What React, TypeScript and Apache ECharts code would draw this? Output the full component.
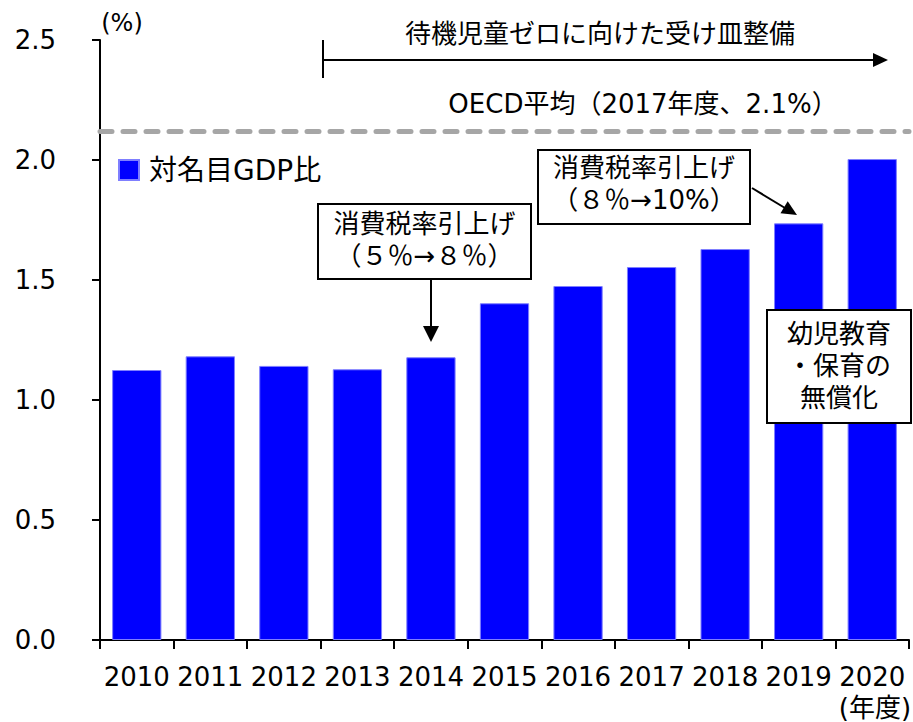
import React, { useEffect, useRef } from 'react';
import * as echarts from 'echarts';

const years = ['2010', '2011', '2012', '2013', '2014', '2015', '2016', '2017', '2018', '2019', '2020'];
const ratioToGDP = [1.125, 1.182, 1.142, 1.128, 1.178, 1.403, 1.475, 1.554, 1.629, 1.736, 2.004];
const oecdAverage = 2.115;
const seriesName = '対名目GDP比';
const yMin = 0;
const yMax = 2.5;
const yInterval = 0.5;

const NUM_FONT = 'DejaVu Sans, Noto Sans CJK JP, sans-serif';
const JP_FONT = 'DejaVu Sans, Noto Sans CJK JP, sans-serif';

export default function App() {
  const ref = useRef<HTMLDivElement>(null);

  useEffect(() => {
    document.body.style.margin = '0';
    if (!ref.current) return;
    const chart = echarts.init(ref.current, null, { renderer: 'svg' });

    const txt = (text: string, x: number, y: number, fontSize = 26, align = 'center', lineHeight = 32) => ({
      type: 'text',
      z: 110,
      style: {
        text,
        x,
        y,
        fontSize,
        fontFamily: JP_FONT,
        fill: '#000',
        align,
        verticalAlign: 'middle',
        lineHeight,
      },
    });

    const box = (x: number, y: number, w: number, h: number) => ({
      type: 'rect',
      z: 100,
      shape: { x, y, width: w, height: h },
      style: { fill: '#fff', stroke: '#000', lineWidth: 2 },
    });

    const lineEl = (x1: number, y1: number, x2: number, y2: number, w = 2) => ({
      type: 'line',
      z: 100,
      shape: { x1, y1, x2, y2 },
      style: { stroke: '#000', lineWidth: w },
    });

    const tri = (points: number[][]) => ({
      type: 'polygon',
      z: 100,
      shape: { points },
      style: { fill: '#000' },
    });

    chart.setOption({
      animation: false,
      grid: { left: 100, right: 4, top: 40, bottom: 82, containLabel: false },
      legend: {
        data: [seriesName],
        left: 118,
        top: 156,
        padding: 0,
        icon: 'rect',
        itemWidth: 20,
        itemHeight: 20,
        itemGap: 10,
        textStyle: { fontSize: 28, fontFamily: JP_FONT, color: '#000', padding: [0, 0, 0, 5] },
      },
      xAxis: {
        type: 'category',
        data: years,
        axisLine: { show: true, lineStyle: { color: '#000', width: 2 } },
        axisTick: { show: true, length: 9, lineStyle: { color: '#000', width: 2 } },
        axisLabel: { interval: 0, fontSize: 26, fontFamily: NUM_FONT, color: '#000', margin: 24 },
      },
      yAxis: {
        type: 'value',
        min: yMin,
        max: yMax,
        interval: yInterval,
        axisLine: { show: true, lineStyle: { color: '#000', width: 2 } },
        axisTick: { show: true, length: 8, lineStyle: { color: '#000', width: 2 } },
        splitLine: { show: false },
        axisLabel: {
          fontSize: 26,
          fontFamily: NUM_FONT,
          color: '#000',
          margin: 44,
          padding: [0, 0, 8, 0],
          formatter: (v: number) => v.toFixed(1),
        },
      },
      series: [
        {
          name: seriesName,
          type: 'bar',
          data: ratioToGDP,
          barCategoryGap: '33%',
          itemStyle: { color: '#0000FF', borderColor: '#7f7fff', borderWidth: 1 },
          markLine: {
            silent: true,
            symbol: ['none', 'none'],
            label: { show: false },
            lineStyle: { color: '#A6A6A6', width: 5, type: [12, 11], cap: 'round' },
            data: [{ yAxis: oecdAverage }],
          },
        },
      ],
      graphic: [
        // axis unit labels
        txt('(%)', 122, 23, 24),
        txt('(年度)', 875, 708, 26),
        // top arrow
        lineEl(323, 40, 323, 78),
        lineEl(323, 60, 875, 60),
        tri([[888, 60], [873, 53], [873, 67]]),
        txt('待機児童ゼロに向けた受け皿整備', 600, 34, 26),
        // OECD label
        txt('OECD平均（2017年度、2.1%）', 643, 104, 26),
        // box 1
        box(318, 204, 213, 75),
        txt('消費税率引上げ\n（５％→８％）', 424.5, 239.5, 26),
        lineEl(431, 279, 431, 328),
        tri([[431, 342], [423, 326], [439, 326]]),
        // box 2
        box(538, 150, 212, 74),
        txt('消費税率引上げ\n（８％→10%）', 644, 184, 26),
        lineEl(752, 188, 785, 208),
        tri([[797, 215], [780.5, 213.3], [787.7, 201.3]]),
        // box 3
        box(767, 310, 144, 113),
        txt('幼児教育\n・保育の\n無償化', 839, 366, 26),
      ],
    });

    return () => chart.dispose();
  }, []);

  return <div ref={ref} style={{ width: 913, height: 722 }} />;
}
